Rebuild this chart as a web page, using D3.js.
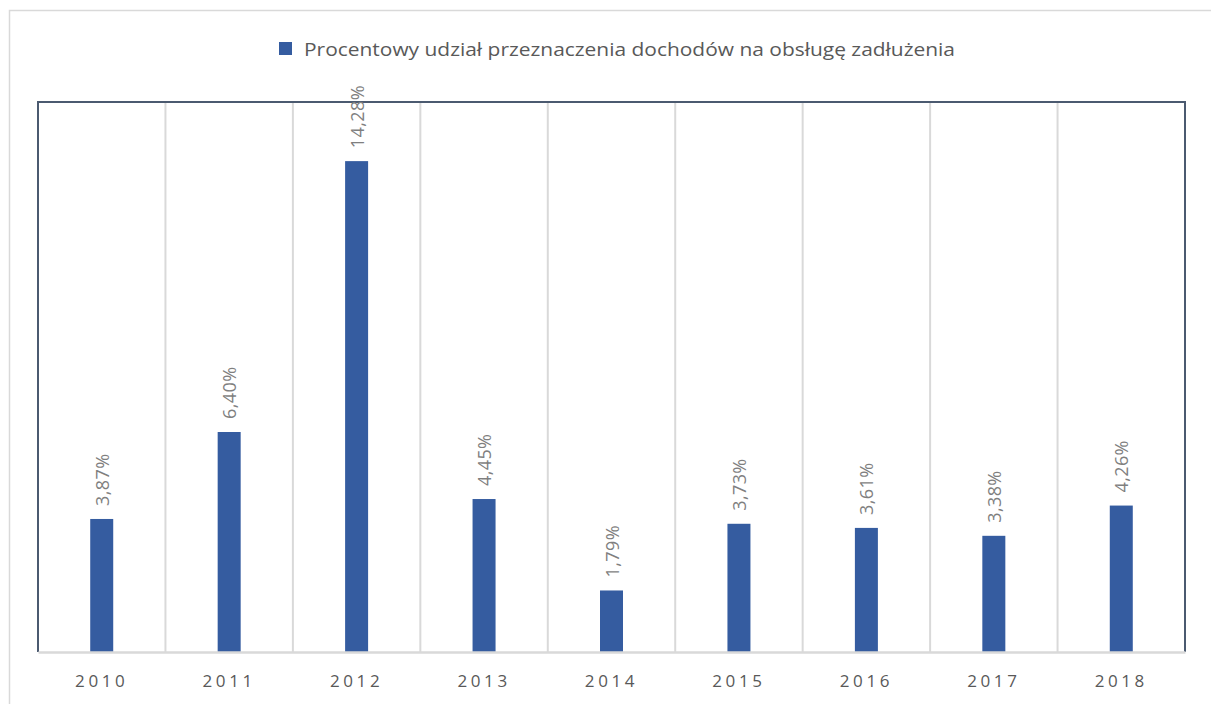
<!DOCTYPE html>
<html>
<head>
<meta charset="utf-8">
<script src="https://cdn.jsdelivr.net/npm/d3@7"></script>
<style>
  body { margin: 0; background: #fff; }
</style>
</head>
<body>
<script>
var years = ["2010", "2011", "2012", "2013", "2014", "2015", "2016", "2017", "2018"];
var values = [3.87, 6.40, 14.28, 4.45, 1.79, 3.73, 3.61, 3.38, 4.26];
var valueLabels = ["3,87%", "6,40%", "14,28%", "4,45%", "1,79%", "3,73%", "3,61%", "3,38%", "4,26%"];
var seriesName = "Procentowy udział przeznaczenia dochodów na obsługę zadłużenia";

var w = 1211;
var h = 704;
var plotLeft = 38, plotRight = 1185, plotTop = 102, plotBottom = 652;
var font = "'Open Sans', 'Liberation Sans', sans-serif";

var svg = d3.select("body")
  .append("svg")
  .attr("width", w)
  .attr("height", h);

// outer chart frame
svg.append("rect")
  .attr("x", 9.5).attr("y", 10.5)
  .attr("width", w + 20).attr("height", h + 20)
  .attr("fill", "none")
  .attr("stroke", "#d9d9d9")
  .attr("stroke-width", 1.5);

var xScale = d3.scaleBand()
  .domain(years)
  .range([plotLeft, plotRight]);

var yScale = d3.scaleLinear()
  .domain([0, 16])
  .range([plotBottom, plotTop]);

/* ===== GRIDLINES (category separators) ===== */
svg.append("g")
  .selectAll("line")
  .data(years.slice(1))
  .enter()
  .append("line")
  .attr("x1", function (d) { return xScale(d); })
  .attr("x2", function (d) { return xScale(d); })
  .attr("y1", plotTop)
  .attr("y2", plotBottom)
  .attr("stroke", "#d9d9d9")
  .attr("stroke-width", 2);

/* ===== BARS ===== */
var barWidth = 23;
svg.append("g")
  .selectAll("rect")
  .data(values)
  .enter()
  .append("rect")
  .attr("x", function (d, i) { return xScale(years[i]) + xScale.bandwidth() / 2 - barWidth / 2; })
  .attr("y", function (d) { return yScale(d); })
  .attr("width", barWidth)
  .attr("height", function (d) { return plotBottom - yScale(d); })
  .attr("fill", "#355ca0");

/* ===== PLOT BORDER ===== */
svg.append("path")
  .attr("d", "M" + plotLeft + "," + plotBottom + "V" + plotTop + "H" + plotRight + "V" + plotBottom)
  .attr("fill", "none")
  .attr("stroke", "#4b5a70")
  .attr("stroke-width", 2);

/* ===== X AXIS ===== */
var xAxis = d3.axisBottom(xScale).tickSize(0).tickPadding(23);
var gx = svg.append("g")
  .attr("transform", "translate(0," + plotBottom + ")")
  .call(xAxis);
gx.select(".domain")
  .attr("stroke", "#d9d9d9")
  .attr("stroke-width", 2.5);
gx.selectAll("text")
  .attr("font-family", font)
  .attr("font-size", "17px")
  .attr("letter-spacing", "3.6px")
  .attr("fill", "#595959");

/* ===== VALUE LABELS ===== */
svg.append("g")
  .selectAll("text")
  .data(values)
  .enter()
  .append("text")
  .text(function (d, i) { return valueLabels[i]; })
  .attr("transform", function (d, i) {
    var x = xScale(years[i]) + xScale.bandwidth() / 2 + 7;
    var y = yScale(d) - 13;
    return "translate(" + x + "," + y + ") rotate(-90)";
  })
  .attr("text-anchor", "start")
  .attr("font-family", font)
  .attr("font-size", "18px")
  .attr("letter-spacing", "0.4px")
  .attr("fill", "#7f7f7f");

/* ===== LEGEND ===== */
svg.append("rect")
  .attr("x", 279).attr("y", 42)
  .attr("width", 13).attr("height", 13)
  .attr("fill", "#355ca0");
svg.append("text")
  .text(seriesName)
  .attr("x", 304)
  .attr("y", 56)
  .attr("font-family", font)
  .attr("font-size", "19px")
  .attr("fill", "#595959")
  .attr("textLength", 651)
  .attr("lengthAdjust", "spacingAndGlyphs");
</script>
</body>
</html>
